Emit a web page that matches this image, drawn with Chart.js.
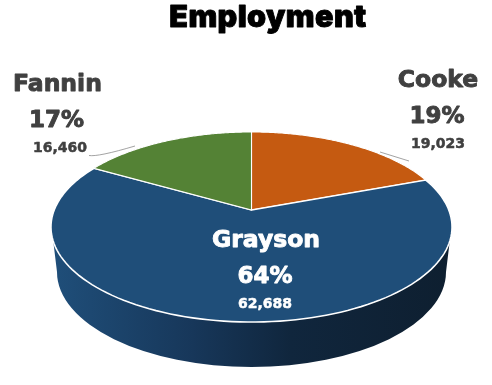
<!doctype html>
<html lang="en">

<head>
  <meta charset="utf-8">
  <title>Employment</title>
  <script src="https://cdn.jsdelivr.net/npm/chart.js"></script>
  <style>
    body {
      margin: 0;
      background-color: #FFFFFF;
    }

    canvas {
      display: block;
    }
  </style>
</head>

<body>
  <canvas id="pieChart" width="492" height="385"></canvas>

  <script>
    const chartTitle = 'Employment';
    const counties = ['Cooke', 'Grayson', 'Fannin'];
    const employment = [19023, 62688, 16460];
    const sliceColors = ['#C55A11', '#1F4E79', '#548235'];

    // perspective of the tilted pie: a circle seen from the front
    const apex = { x: 251.5, y: 210 };
    const tilt = { a: 92, c: -0.179, d: 197.3 };

    function project(angle) {
      const X = Math.cos(angle);
      const Y = Math.sin(angle);
      const w = 1 + tilt.c * Y;
      return { x: apex.x + tilt.d * X / w, y: apex.y + tilt.a * Y / w };
    }

    function drawWall(ctx) {
      const grad = ctx.createLinearGradient(55, 0, 448, 0);
      grad.addColorStop(0, '#1F4E79');
      grad.addColorStop(0.35, '#17375A');
      grad.addColorStop(0.6, '#10263D');
      grad.addColorStop(1, '#0E1F30');
      ctx.fillStyle = grad;
      ctx.beginPath();
      ctx.moveTo(52.5, 235);
      ctx.lineTo(450.5, 235);
      ctx.lineTo(446, 272);
      ctx.ellipse(251.5, 272, 194.5, 95, 0, 0, Math.PI);
      ctx.closePath();
      ctx.fill();
    }

    function drawSlices(chart) {
      const ctx = chart.ctx;
      const arcs = chart.getDatasetMeta(0).data;
      ctx.save();
      drawWall(ctx);
      arcs.forEach((arc, i) => {
        const steps = 120;
        ctx.beginPath();
        ctx.moveTo(apex.x, apex.y);
        for (let s = 0; s <= steps; s++) {
          const p = project(arc.startAngle + (arc.endAngle - arc.startAngle) * s / steps);
          ctx.lineTo(p.x, p.y);
        }
        ctx.closePath();
        ctx.fillStyle = sliceColors[i];
        ctx.fill();
        ctx.strokeStyle = '#FFFFFF';
        ctx.lineWidth = i === 1 ? 1.6 : 1.1;
        ctx.stroke();
      });
      ctx.restore();
    }

    // fill plus a thin stroke, the reference text is heavier than any bold we have
    function heavyText(ctx, text, x, y, font, color, weight) {
      ctx.font = font;
      ctx.fillStyle = color;
      ctx.strokeStyle = color;
      ctx.lineWidth = weight;
      ctx.lineJoin = 'round';
      ctx.strokeText(text, x, y);
      ctx.fillText(text, x, y);
    }

    const labelSpots = [
      { x: 438, y: 87, color: '#404040', valueX: 438 },
      { x: 266, y: 247, color: '#FFFFFF', valueX: 265 },
      { x: 57.5, y: 91, color: '#404040', valueX: 60 }
    ];

    const total = employment.reduce((a, b) => a + b, 0);

    const pie3d = {
      id: 'pie3d',
      beforeDatasetDraw(chart) {
        drawSlices(chart);
        return false;
      },
      afterDraw(chart) {
        const ctx = chart.ctx;
        ctx.save();

        // leader lines
        ctx.strokeStyle = '#8C8C8C';
        ctx.lineWidth = 0.8;
        ctx.beginPath();
        ctx.moveTo(89, 155.5);
        ctx.quadraticCurveTo(98, 157, 135, 146);
        ctx.moveTo(380, 152);
        ctx.lineTo(409, 161);
        ctx.stroke();

        ctx.textAlign = 'center';
        ctx.textBaseline = 'alphabetic';
        ctx.letterSpacing = '0.4px';
        heavyText(ctx, chartTitle, 268, 27, '900 30.5px Inter, "DejaVu Sans"', '#000000', 0.9);
        ctx.letterSpacing = '0px';

        counties.forEach((name, i) => {
          const spot = labelSpots[i];
          const pct = Math.round(employment[i] / total * 100) + '%';
          heavyText(ctx, name, spot.x, spot.y, 'bold 23.5px "DejaVu Sans"', spot.color, 0.9);
          heavyText(ctx, pct, spot.x - 1, spot.y + 36, 'bold 23px "DejaVu Sans"', spot.color, 0.9);
          heavyText(ctx, employment[i].toLocaleString('en-US'), spot.valueX, spot.y + 61, 'bold 14px "DejaVu Sans"', spot.color, 0.5);
        });
        ctx.restore();
      }
    };

    new Chart(document.getElementById('pieChart'), {
      type: 'pie',
      data: {
        labels: counties,
        datasets: [{ data: employment, backgroundColor: sliceColors, borderColor: '#FFFFFF' }]
      },
      options: {
        responsive: false,
        animation: false,
        plugins: {
          legend: { display: false },
          tooltip: { enabled: false }
        }
      },
      plugins: [pie3d]
    });
  </script>
</body>

</html>
